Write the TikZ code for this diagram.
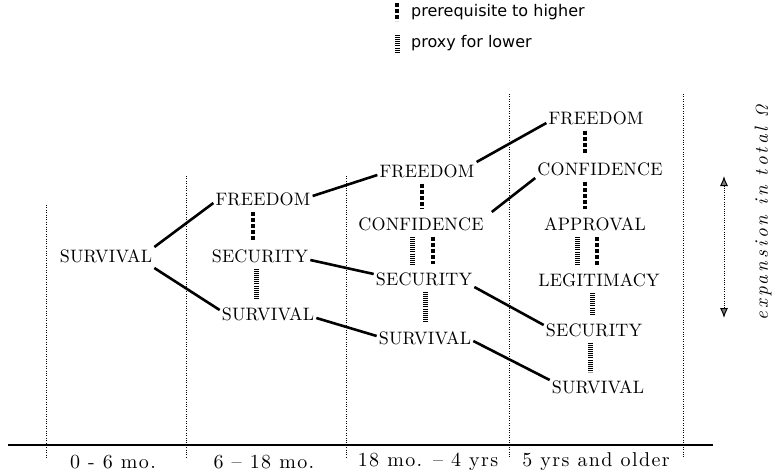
\documentclass[tikz,border=0pt]{standalone}
\usepackage[no-math]{fontspec}
\usetikzlibrary{positioning,arrows.meta}
\newfontfamily\stagefont[Ligatures=TeX,LetterSpace=1]{lmroman10-regular.otf}
\newfontfamily\erafont[Ligatures=TeX,LetterSpace=7]{lmroman10-regular.otf}
\newfontfamily\slantfont[LetterSpace=16]{lmroman10-italic.otf}
\newfontfamily\legendfont{DejaVu Sans}

\begin{document}
\begin{tikzpicture}[x=1pt,y=-1pt,
  stage/.style={font=\stagefont\fontsize{18}{20}\selectfont, inner sep=2pt},
  era/.style={font=\erafont\fontsize{20}{22}\selectfont, inner sep=1pt},
  legend/.style={font=\legendfont\fontsize{16}{18}\selectfont, anchor=west, inner sep=1pt},
  link/.style={line width=2.6pt},
  prereq/.style={line width=4.5pt, dash pattern=on 4pt off 2pt, shorten <=4pt, shorten >=6pt},
  proxy/.style={line width=5pt, dash pattern=on 1pt off 1.1pt, shorten <=4pt, shorten >=6pt},
  divider/.style={line width=0.9pt, dash pattern=on 1pt off 1.4pt}]

  \useasboundingbox (0,0) rectangle (778,473);

  % age bands
  \foreach \x/\top in {46/205, 186/176, 346/176, 509/94, 683/94}
    \draw [divider] (\x,\top) -- (\x,458);
  \draw [line width=1.4pt] (8,445) -- (713,445);
  \node [era] (band1) at (113,462) {0 - 6 mo.};
  \node [era] (band2) at (264,462) {6 -- 18 mo.};
  \node [era] (band3) at (428,462) {18 mo. -- 4 yrs};
  \node [era] (band4) at (596,462) {5 yrs and older};

  % stages
  \node [stage] (s1surv) at (106,256) {SURVIVAL};

  \node [stage] (s2free) at (263,199) {FREEDOM};
  \path (s2free) ++(-3,57) node [stage] (s2sec)  {SECURITY};
  \path (s2sec)  ++(8,58)  node [stage] (s2surv) {SURVIVAL};

  \node [stage] (s3free) at (427,171) {FREEDOM};
  \path (s3free) ++(-6,53) node [stage] (s3conf) {CONFIDENCE};
  \path (s3conf) ++(3,55)  node [stage] (s3sec)  {SECURITY};
  \path (s3sec)  ++(1,59)  node [stage] (s3surv) {SURVIVAL};

  \node [stage] (s4free) at (596,118) {FREEDOM};
  \path (s4free) ++(4,51)  node [stage] (s4conf) {CONFIDENCE};
  \path (s4conf) ++(-5,55) node [stage] (s4appr) {APPROVAL};
  \path (s4appr) ++(4,56)  node [stage] (s4legi) {LEGITIMACY};
  \path (s4legi) ++(-5,50) node [stage] (s4sec)  {SECURITY};
  \path (s4sec)  ++(4,57)  node [stage] (s4surv) {SURVIVAL};

  % transitions
  \draw [link] ([yshift=9pt]s1surv.east)   -- ([yshift=-4pt]s2free.west);
  \draw [link] ([yshift=-12pt]s1surv.east) -- ([yshift=4pt]s2surv.west);
  \draw [link] ([yshift=3pt]s2free.east)   -- ([yshift=-4pt]s3free.west);
  \draw [link] ([yshift=-4pt]s2sec.east)   -- ([yshift=5pt]s3sec.west);
  \draw [link] ([yshift=-4pt]s2surv.east)  -- ([yshift=2pt]s3surv.west);
  \draw [link] ([yshift=9pt]s3free.east)   -- ([yshift=-5pt]s4free.west);
  \draw [link] ([xshift=6pt,yshift=12pt]s3conf.east) -- ([yshift=-9pt]s4conf.west);
  \draw [link] ([yshift=-8pt]s3sec.east)   -- ([yshift=5pt]s4sec.west);
  \draw [link] ([yshift=-3pt]s3surv.east)  -- ([yshift=7pt]s4surv.west);

  % dependencies
  \draw [prereq] ([xshift=-10pt]s2free.south) -- ([xshift=-7pt]s2sec.north);
  \draw [proxy]  ([xshift=-4pt]s2sec.south)   -- ([xshift=-12pt]s2surv.north);
  \draw [prereq] ([xshift=-5pt]s3free.south)  -- ([xshift=1pt]s3conf.north);
  \draw [proxy]  ([xshift=-9pt]s3conf.south)  -- ([xshift=-12pt]s3sec.north);
  \draw [prereq] ([xshift=12pt]s3conf.south)  -- ([xshift=9pt]s3sec.north);
  \draw [proxy]  ([xshift=1pt]s3sec.south)    -- ([xshift=0pt]s3surv.north);
  \draw [prereq] ([xshift=-11pt]s4free.south) -- ([xshift=-15pt]s4conf.north);
  \draw [prereq] ([xshift=-15pt]s4conf.south) -- ([xshift=-10pt]s4appr.north);
  \draw [proxy]  ([xshift=-18pt]s4appr.south) -- ([xshift=-22pt]s4legi.north);
  \draw [prereq] ([xshift=2pt]s4appr.south)   -- ([xshift=-2pt]s4legi.north);
  \draw [proxy]  ([xshift=-7pt]s4legi.south)  -- ([xshift=-2pt]s4sec.north);
  \draw [proxy]  ([xshift=-4pt]s4sec.south)   -- ([xshift=-8pt]s4surv.north);

  % key
  \node [legend] (keypre) at (410,12) {prerequisite to higher};
  \node [legend] (keypro) at (410,43) {proxy for lower};
  \draw [prereq, shorten <=0pt, shorten >=0pt] ([xshift=-13pt,yshift=9pt]keypre.west) -- ([xshift=-13pt,yshift=-9pt]keypre.west);
  \draw [proxy, shorten <=0pt, shorten >=0pt] ([xshift=-13pt,yshift=8pt]keypro.west) -- ([xshift=-13pt,yshift=-9pt]keypro.west);

  % overall span
  \coordinate (spantop) at (724,176);
  \coordinate (spanbot) at (724,318);
  \draw [line width=1pt, dash pattern=on 1pt off 1.3pt,
         {Latex[length=10pt,width=8pt,fill=gray]}-{Latex[length=10pt,width=8pt,fill=gray]}] (spantop) -- (spanbot);
  \node [font=\slantfont\fontsize{19}{21}\selectfont, rotate=90] (span) at (763,212) {expansion in total $\mathit{\Omega}$};
\end{tikzpicture}
\end{document}
